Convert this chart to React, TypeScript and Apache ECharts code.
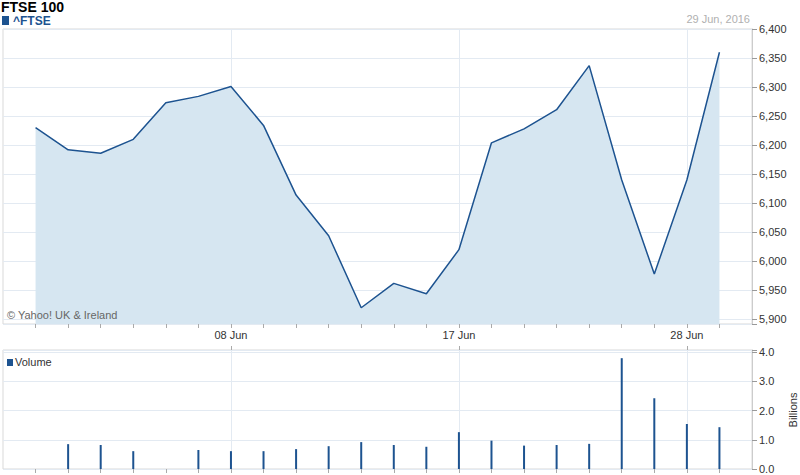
import React, { useEffect, useRef } from "react";
import * as echarts from "echarts";

const dates = [
  "31 May", "01 Jun", "02 Jun", "03 Jun", "06 Jun", "07 Jun", "08 Jun", "09 Jun",
  "10 Jun", "13 Jun", "14 Jun", "15 Jun", "16 Jun", "17 Jun", "20 Jun", "21 Jun",
  "22 Jun", "23 Jun", "24 Jun", "27 Jun", "28 Jun", "29 Jun",
];
const closeValues = [
  6230, 6192, 6186, 6210, 6273, 6284, 6301, 6234, 6114, 6044, 5920, 5962,
  5944, 6020, 6204, 6228, 6261, 6337, 6140, 5978, 6140, 6360,
];
const volumeValues: (number | null)[] = [
  null, 0.85, 0.82, 0.61, null, 0.65, 0.61, 0.61, 0.68, 0.78, 0.92, 0.82,
  0.76, 1.26, 0.97, 0.8, 0.82, 0.86, 3.79, 2.42, 1.54, 1.43,
];
const labelDates = ["08 Jun", "17 Jun", "28 Jun"];
const priceTicks = { min: 5892, max: 6400, step: 50 };
const volumeTicks = { min: 0, max: 4.07, step: 1 };

const BLUE = "#1d5390";
const AREA = "#d6e6f1";
const GRID = "#e3eaf2";
const BORDER = "#d9d9d9";
const FONT = "'Liberation Sans', Arial, sans-serif";

export default function App() {
  const ref = useRef<HTMLDivElement>(null);

  useEffect(() => {
    if (!ref.current) return;
    const chart = echarts.init(ref.current, undefined, { renderer: "svg" });

    const cats = ["pad_l", ...dates, "pad_r"];
    const pad = (arr: (number | null)[]) => ["-", ...arr.map((v) => (v == null ? "-" : v)), "-"];
    const isPoint = (i: number) => i >= 1 && i <= dates.length;
    const isLabel = (i: number, v: string) => labelDates.includes(v);

    const option: any = {
      animation: false,
      textStyle: { fontFamily: FONT },
      grid: [
        { left: 3, right: 48, top: 29, height: 295, show: true, borderColor: BORDER, borderWidth: 1, backgroundColor: "transparent" },
        { left: 3, right: 48, top: 350, height: 119, show: true, borderColor: BORDER, borderWidth: 1, backgroundColor: "transparent" },
      ],
      xAxis: [
        {
          type: "category",
          gridIndex: 0,
          data: cats,
          boundaryGap: false,
          axisLine: { show: false },
          axisTick: { show: true, length: 4, interval: (i: number) => isPoint(i), lineStyle: { color: "#aaa" } },
          axisLabel: {
            show: true,
            interval: (i: number, v: string) => isLabel(i, v),
            margin: 5,
            fontSize: 11,
            color: "#333",
            fontFamily: FONT,
          },
          splitLine: { show: true, interval: (i: number, v: string) => isLabel(i, v), lineStyle: { color: GRID } },
        },
        {
          type: "category",
          gridIndex: 1,
          data: cats,
          boundaryGap: false,
          axisLine: { show: false },
          axisTick: { show: true, length: 4, interval: (i: number) => isPoint(i), lineStyle: { color: "#aaa" } },
          axisLabel: { show: false },
          splitLine: { show: true, interval: (i: number, v: string) => isLabel(i, v), lineStyle: { color: GRID } },
        },
        {
          type: "category",
          gridIndex: 1,
          position: "top",
          data: cats,
          boundaryGap: false,
          axisLine: { show: false },
          axisTick: { show: true, length: 4, interval: (i: number, v: string) => isLabel(i, v), lineStyle: { color: "#aaa" } },
          axisLabel: { show: false },
          splitLine: { show: false },
        },
      ],
      yAxis: [
        {
          type: "value",
          gridIndex: 0,
          position: "right",
          min: priceTicks.min,
          max: priceTicks.max,
          splitNumber: 10,
          minInterval: priceTicks.step,
          maxInterval: priceTicks.step,
          axisLine: { show: true, lineStyle: { color: "#ccc" } },
          axisTick: { show: true, length: 5, lineStyle: { color: "#999" } },
          axisLabel: {
            margin: 7,
            fontSize: 11,
            color: "#333",
            fontFamily: FONT,
            formatter: (v: number) => (v % priceTicks.step === 0 ? v.toLocaleString("en-US") : ""),
          },
          splitLine: { show: true, lineStyle: { color: GRID } },
        },
        {
          type: "value",
          gridIndex: 1,
          position: "right",
          min: volumeTicks.min,
          max: volumeTicks.max,
          splitNumber: 4,
          minInterval: volumeTicks.step,
          maxInterval: volumeTicks.step,
          axisLine: { show: true, lineStyle: { color: "#ccc" } },
          axisTick: { show: true, length: 5, lineStyle: { color: "#999" } },
          axisLabel: {
            margin: 7,
            fontSize: 11,
            color: "#333",
            fontFamily: FONT,
            formatter: (v: number) => (Math.abs(v - Math.round(v)) < 1e-9 ? v.toFixed(1) : ""),
          },
          splitLine: { show: true, lineStyle: { color: GRID } },
        },
      ],
      series: [
        {
          type: "line",
          name: "^FTSE",
          xAxisIndex: 0,
          yAxisIndex: 0,
          data: pad(closeValues),
          showSymbol: false,
          symbol: "none",
          connectNulls: false,
          lineStyle: { color: BLUE, width: 1.5 },
          itemStyle: { color: BLUE },
          areaStyle: { color: AREA, opacity: 1 },
          z: 3,
        },
        {
          type: "bar",
          name: "Volume",
          xAxisIndex: 1,
          yAxisIndex: 1,
          data: pad(volumeValues),
          barWidth: 2,
          itemStyle: { color: BLUE },
        },
      ],
      graphic: [
        {
          type: "text",
          x: 1,
          y: 0,
          style: { text: "FTSE 100", font: `bold 14px ${FONT}`, lineHeight: 14, fill: "#000", verticalAlign: "top" },
        },
        { type: "rect", shape: { x: 2, y: 16, width: 7, height: 9 }, style: { fill: BLUE } },
        {
          type: "text",
          x: 13,
          y: 21,
          style: { text: "^FTSE", font: `bold 12px ${FONT}`, lineHeight: 12, fill: BLUE, verticalAlign: "middle" },
        },
        {
          type: "text",
          x: 750,
          y: 19,
          style: { text: "29 Jun, 2016", font: `11px ${FONT}`, fill: "#b0b0b0", align: "right", verticalAlign: "middle" },
        },
        {
          type: "text",
          x: 7,
          y: 315,
          z: 10,
          style: { text: "© Yahoo! UK & Ireland", font: `11px ${FONT}`, fill: "#666", verticalAlign: "middle" },
        },
        { type: "rect", shape: { x: 7, y: 359, width: 6, height: 7 }, style: { fill: BLUE } },
        {
          type: "text",
          x: 15,
          y: 362,
          style: { text: "Volume", font: `11px ${FONT}`, fill: "#333", verticalAlign: "middle" },
        },
        {
          type: "text",
          x: 793,
          y: 410,
          rotation: Math.PI / 2,
          style: { text: "Billions", font: `11px ${FONT}`, fill: "#333", align: "center", verticalAlign: "middle" },
        },
      ],
    };

    chart.setOption(option);
    return () => chart.dispose();
  }, []);

  return <div ref={ref} style={{ width: 800, height: 475, position: "absolute", left: 0, top: 0 }} />;
}
